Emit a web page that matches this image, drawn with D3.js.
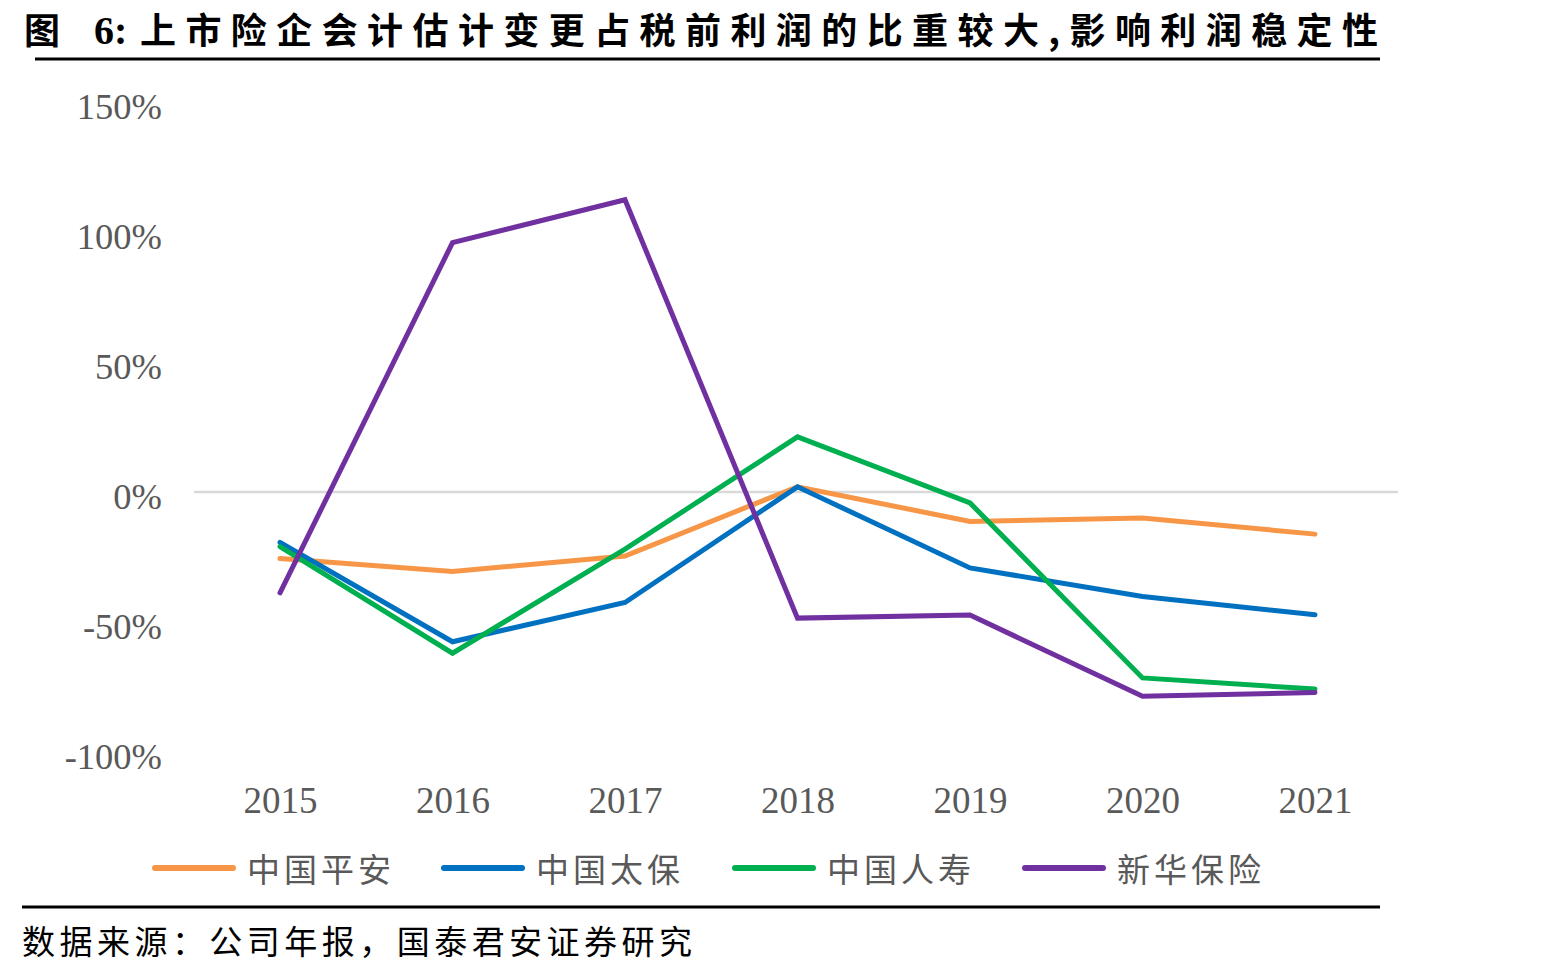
<!DOCTYPE html>
<html><head><meta charset="utf-8">
<script src="https://cdn.jsdelivr.net/npm/d3@7"></script>
<style>html,body{margin:0;padding:0;background:#fff;}svg{display:block;}</style>
</head><body>
<svg id="c" width="1567" height="972"></svg>
<script>
const years = ["2015","2016","2017","2018","2019","2020","2021"];
const seriesNames = ["中国平安","中国太保","中国人寿","新华保险"];
const pingan = [-25.6, -30.6, -24.6, 2.0, -11.3, -10.0, -16.2];
const taibao = [-19.4, -57.6, -42.5, 2.0, -29.2, -40.2, -47.2];
const renshou = [-21.0, -62.0, -22.0, 21.2, -4.2, -71.5, -75.8];
const xinhua = [-38.8, 95.9, 112.4, -48.5, -47.3, -78.6, -77.1];
const seriesValues = [pingan, taibao, renshou, xinhua];
const colors = ["#F79646","#0070C0","#00B050","#7030A0"];
const yTicks = [-100, -50, 0, 50, 100, 150];
const titleHead = "图";
const titleNum = "6:";
const titleBody = "上市险企会计估计变更占税前利润的比重较大,影响利润稳定性";
const sourceText = "数据来源：公司年报，国泰君安证券研究";

const svg = d3.select("#c");
const cjk = "'Noto Sans CJK SC','Noto Sans CJK JP',sans-serif";
const serif = "'Liberation Serif','Times New Roman',serif";

// Title
const t = svg.append("text").attr("y", 44).attr("font-weight","bold").attr("fill","#000").attr("font-size",36);
t.append("tspan").attr("x",24).attr("font-family",cjk).text(titleHead);
t.append("tspan").attr("x",94).attr("font-family",serif).attr("font-size",40).text(titleNum);
t.append("tspan").attr("x",140).attr("font-family",cjk)
  .attr("textLength",1238).attr("lengthAdjust","spacing").text(titleBody);
svg.append("line").attr("x1",35).attr("x2",1380).attr("y1",59).attr("y2",59)
  .attr("stroke","#000").attr("stroke-width",3);

// Scales
const x = d3.scalePoint().domain(years).range([280,1315]);
const y = d3.scaleLinear().domain([-100,150]).range([752,102]);

// zero gridline
svg.append("line").attr("x1",194).attr("x2",1398).attr("y1",y(0)).attr("y2",y(0))
  .attr("stroke","#D9D9D9").attr("stroke-width",2.5);

// Y axis labels
const yAxis = d3.axisLeft(y).tickValues(yTicks).tickFormat(d => d + "%").tickSize(0).tickPadding(0);
const yg = svg.append("g").attr("transform","translate(162,0)").call(yAxis);
yg.select(".domain").remove();
yg.selectAll("text").attr("font-family",serif).attr("font-size",36.5).attr("fill","#595959").attr("dy","0.45em");

// X axis labels
const xAxis = d3.axisBottom(x).tickSize(0).tickPadding(0);
const xg = svg.append("g").attr("transform","translate(0,800)").call(xAxis);
xg.select(".domain").remove();
xg.selectAll("text").attr("font-family",serif).attr("font-size",37).attr("fill","#595959").attr("dy","0.34em").attr("y",0);

// Lines
const line = d3.line().x((d,i) => x(years[i])).y(d => y(d));
seriesValues.forEach((vals, k) => {
  svg.append("path").datum(vals).attr("d", line)
    .attr("fill","none").attr("stroke",colors[k]).attr("stroke-width",5)
    .attr("stroke-linejoin","miter").attr("stroke-linecap","round");
});

// Legend
const legX = [152, 441, 732, 1022];
seriesNames.forEach((name,k) => {
  const g = svg.append("g").attr("transform",`translate(${legX[k]},868)`);
  g.append("line").attr("x1",3).attr("x2",81).attr("y1",0).attr("y2",0)
    .attr("stroke",colors[k]).attr("stroke-width",6).attr("stroke-linecap","round");
  g.append("text").attr("x",95).attr("y",0).attr("dominant-baseline","central")
    .attr("font-family",cjk).attr("font-size",33).attr("fill","#595959")
    .attr("textLength",144).attr("lengthAdjust","spacing").text(name);
});

// bottom rule & source
svg.append("line").attr("x1",22).attr("x2",1380).attr("y1",907).attr("y2",907)
  .attr("stroke","#000").attr("stroke-width",3);
svg.append("text").attr("x",22).attr("y",940).attr("dominant-baseline","central")
  .attr("font-family",cjk).attr("font-size",33).attr("fill","#000")
  .attr("textLength",670).attr("lengthAdjust","spacing").text(sourceText);
</script>
</body></html>
